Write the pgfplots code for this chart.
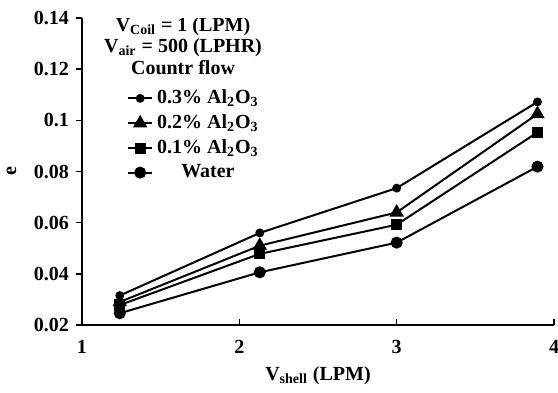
\documentclass[border=0pt]{standalone}
\usepackage{fontspec}
\setmainfont{Liberation Serif}
\usepackage{pgfplots}
\pgfplotsset{compat=1.18}
\begin{document}
\begin{tikzpicture}
\begin{axis}[
  scale only axis, width=236pt, height=153.5pt,
  xmin=1, xmax=4, ymin=0.02, ymax=0.14,
  xtick={1,2,3,4}, ytick={0.02,0.04,0.06,0.08,0.1,0.12,0.14},
  axis x line*=bottom, axis y line*=left,
  axis line style={line width=0.8pt, -},
  tick align=outside, major tick length=3pt,
  tick style={line width=0.8pt, black},
  xtick style={yshift=3pt},
  /pgf/number format/assume math mode=true,
  yticklabel style={/pgf/number format/fixed, /pgf/number format/precision=2},
  tick label style={font=\bfseries\fontsize{10}{12}\selectfont},
  xticklabel style={yshift=-1.3pt},
  xlabel={\bfseries V\textsubscript{shell} (LPM)},
  ylabel={\bfseries e},
  label style={font=\fontsize{10}{12}\selectfont},
  xlabel style={yshift=0.5pt},
  ylabel style={yshift=2pt},
  legend style={draw=none, fill=none, at={(rel axis cs:0.095,0.78)}, anchor=north west,
    font=\bfseries\fontsize{10}{10.5}\selectfont, row sep=0pt, inner sep=0pt,
    /tikz/every even column/.append style={column sep=1pt}},
  legend cell align=center,
  legend image code/.code={\draw[mark repeat=2,mark phase=2] plot coordinates {(0cm,0cm)(0.21cm,0cm)(0.42cm,0cm)};},
  every axis plot/.append style={line width=1pt, black},
]
\addplot[mark=*, mark size=1.7pt] coordinates {(1.24,0.0315) (2.13,0.0560) (3.0,0.0735) (3.895,0.1072)};
\addlegendentry{0.3\% Al\textsubscript{2}O\textsubscript{3}}
\addplot[mark=triangle*, mark size=3.2pt] coordinates {(1.24,0.0290) (2.13,0.0510) (3.0,0.0640) (3.895,0.1025)};
\addlegendentry{0.2\% Al\textsubscript{2}O\textsubscript{3}}
\addplot[mark=square*, mark size=2.3pt] coordinates {(1.24,0.0278) (2.13,0.0478) (3.0,0.0592) (3.895,0.0953)};
\addlegendentry{0.1\% Al\textsubscript{2}O\textsubscript{3}}
\addplot[mark=*, mark size=2.5pt] coordinates {(1.24,0.0246) (2.13,0.0406) (3.0,0.0522) (3.895,0.0819)};
\addlegendentry{Water}
\node[anchor=north, align=center, font=\bfseries\fontsize{10}{10.8}\selectfont] at (rel axis cs:0.214,1.025)
  {V\textsubscript{Coil} = 1 (LPM)\\V\textsubscript{air} = 500 (LPHR)\\Countr flow};
\coordinate (A) at (rel axis cs:0,0);
\coordinate (B) at (rel axis cs:1,1);
\end{axis}
\pgfresetboundingbox
\path ([shift={(-41pt,-33.5pt)}]A) rectangle ([shift={(2pt,9pt)}]B);
\end{tikzpicture}
\end{document}
